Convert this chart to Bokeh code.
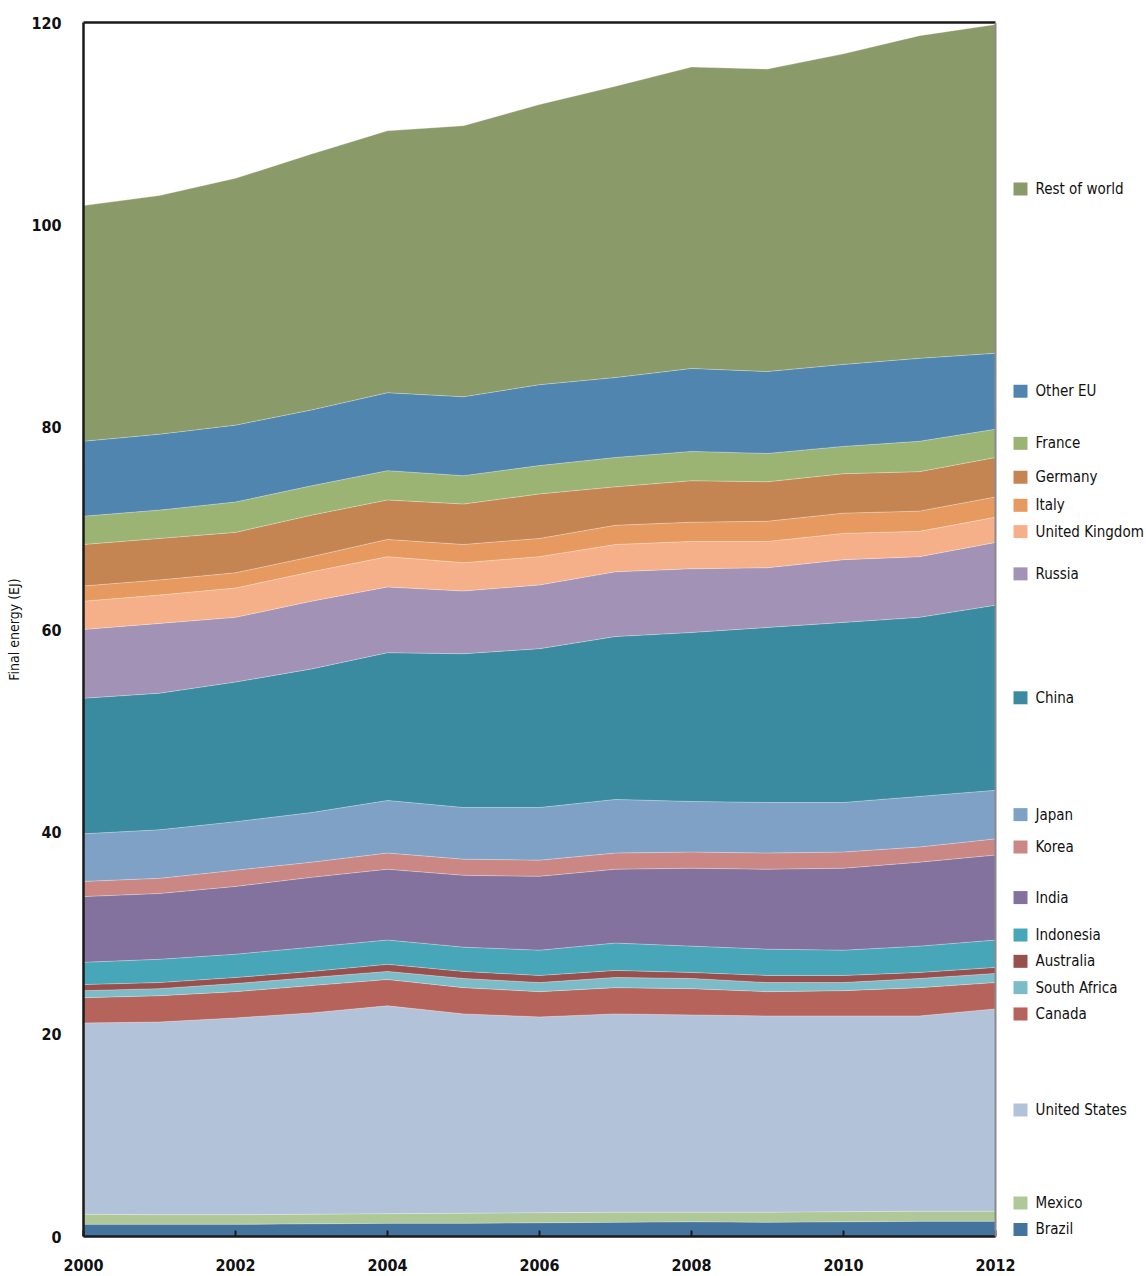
from bokeh.plotting import figure
from bokeh.models import ColumnDataSource, Range1d, LinearAxis, FixedTicker, Span, SingleIntervalTicker
from bokeh.core.properties import value
from bokeh.embed import file_html
from bokeh.resources import INLINE

years = list(range(2000, 2013))

# stacking order, bottom to top
names = ["Brazil", "Mexico", "United States", "Canada", "South Africa", "Australia",
         "Indonesia", "India", "Korea", "Japan", "China", "Russia", "United Kingdom",
         "Italy", "Germany", "France", "Other EU", "Rest of world"]

brazil = [1.2, 1.2, 1.2, 1.25, 1.3, 1.3, 1.35, 1.4, 1.45, 1.4, 1.45, 1.5, 1.5]
mexico = [1.0, 0.95, 0.95, 0.95, 0.95, 1.0, 1.0, 1.0, 0.95, 1.0, 1.0, 1.0, 1.0]
united_states = [18.9, 19.05, 19.45, 19.9, 20.55, 19.7, 19.35, 19.6, 19.5, 19.4, 19.35, 19.3, 20.0]
canada = [2.5, 2.6, 2.6, 2.7, 2.6, 2.6, 2.5, 2.6, 2.6, 2.4, 2.5, 2.8, 2.6]
south_africa = [0.7, 0.7, 0.8, 0.8, 0.8, 0.9, 0.9, 1.0, 1.0, 0.9, 0.8, 0.9, 0.9]
australia = [0.6, 0.6, 0.6, 0.6, 0.7, 0.7, 0.7, 0.7, 0.6, 0.7, 0.7, 0.6, 0.6]
indonesia = [2.2, 2.3, 2.3, 2.4, 2.4, 2.4, 2.5, 2.7, 2.6, 2.6, 2.5, 2.6, 2.7]
india = [6.5, 6.5, 6.7, 6.9, 7.0, 7.1, 7.3, 7.3, 7.7, 7.9, 8.1, 8.3, 8.4]
korea = [1.5, 1.5, 1.6, 1.5, 1.6, 1.6, 1.6, 1.6, 1.6, 1.6, 1.6, 1.5, 1.6]
japan = [4.7, 4.8, 4.8, 4.9, 5.2, 5.1, 5.2, 5.3, 5.0, 5.0, 4.9, 5.0, 4.8]
china = [13.4, 13.5, 13.8, 14.2, 14.6, 15.2, 15.7, 16.1, 16.7, 17.3, 17.8, 17.7, 18.3]
russia = [6.8, 6.9, 6.4, 6.7, 6.5, 6.2, 6.3, 6.4, 6.3, 5.9, 6.2, 6.0, 6.2]
united_kingdom = [2.8, 2.8, 2.9, 2.9, 3.0, 2.8, 2.8, 2.7, 2.7, 2.6, 2.6, 2.5, 2.5]
italy = [1.5, 1.5, 1.5, 1.5, 1.7, 1.8, 1.8, 1.9, 1.9, 2.0, 2.0, 2.0, 2.0]
germany = [4.1, 4.1, 4.0, 4.1, 3.9, 4.0, 4.4, 3.8, 4.1, 3.9, 3.9, 3.9, 3.9]
france = [2.8, 2.8, 3.0, 2.9, 2.9, 2.8, 2.8, 2.9, 2.9, 2.8, 2.7, 3.0, 2.8]
other_eu = [7.4, 7.5, 7.6, 7.5, 7.7, 7.8, 8.0, 7.9, 8.2, 8.1, 8.1, 8.2, 7.5]
rest_of_world = [23.3, 23.6, 24.4, 25.3, 25.9, 26.8, 27.7, 28.8, 29.8, 29.9, 30.7, 31.9, 32.5]

series = [brazil, mexico, united_states, canada, south_africa, australia, indonesia,
          india, korea, japan, china, russia, united_kingdom, italy, germany, france,
          other_eu, rest_of_world]

colors = ["#44739e", "#b0c797", "#b2c2d8", "#b6635c", "#7bbcc8", "#97504d",
          "#47a6b8", "#83719e", "#ca8784", "#7ea1c5", "#3a8aa0", "#a293b6",
          "#f5b08a", "#e69a5f", "#c58552", "#9bb473", "#5085b0", "#8a9a68"]

y_ticks = [0, 20, 40, 60, 80, 100, 120]
x_tick_labels = ["2000", "2002", "2004", "2006", "2008", "2010", "2012"]

FONT = "DejaVu Sans Condensed"

data = {"year": years}
for n, s in zip(names, series):
    data[n] = s
source = ColumnDataSource(data)

# layout
W, H = 1146, 1276
left, top, bottom = 83, 22, 40
px_per_year = 912 / 12.0
x_end = 2000 + (W - left) / px_per_year

p = figure(width=W, height=H, output_backend="svg", toolbar_location=None,
           x_range=Range1d(2000, x_end), y_range=Range1d(0, 120),
           min_border_left=left, min_border_top=top, min_border_bottom=bottom,
           min_border_right=0)
p.outline_line_color = None
p.xgrid.visible = False
p.ygrid.visible = False
p.background_fill_color = "white"

p.varea_stack(stackers=names, x="year", color=colors, source=source)

# thin light separators between bands
cum = [0.0] * len(years)
for n, s in zip(names, series):
    cum = [c + v for c, v in zip(cum, s)]
    p.line(x=years, y=list(cum), line_color="white", line_alpha=0.4, line_width=0.8)

# axes
xa = p.xaxis[0]
xa.bounds = (2000, 2012)
xa.ticker = SingleIntervalTicker(interval=2)
xa.major_label_overrides = {int(t): t for t in x_tick_labels}
xa.axis_line_color = "#1a1a1a"
xa.axis_line_width = 2.5
xa.major_tick_in = 6
xa.major_tick_out = 0
xa.major_tick_line_color = "#1a1a1a"
xa.major_tick_line_width = 2
xa.minor_tick_line_color = None
xa.major_label_text_font = FONT
xa.major_label_text_font_size = "16px"
xa.major_label_text_font_style = "bold"
xa.major_label_text_color = "#111111"
xa.major_label_standoff = 18

ya = p.yaxis[0]
ya.ticker = FixedTicker(ticks=y_ticks)
ya.axis_line_color = "#1a1a1a"
ya.axis_line_width = 2.5
ya.major_tick_in = 0
ya.major_tick_out = 0
ya.minor_tick_line_color = None
ya.major_label_text_font = FONT
ya.major_label_text_font_size = "16px"
ya.major_label_text_font_style = "bold"
ya.major_label_text_color = "#111111"
ya.major_label_standoff = 22
ya.axis_label = "Final energy (EJ)"
ya.axis_label_text_font = FONT
ya.axis_label_text_font_size = "14px"
ya.axis_label_text_font_style = "normal"
ya.axis_label_text_color = "#111111"
ya.axis_label_standoff = 6

top_axis = LinearAxis(bounds=(2000, 2012), ticker=FixedTicker(ticks=[]),
                      major_label_text_font_size="0px", major_label_standoff=0,
                      major_tick_in=0, major_tick_out=0, minor_tick_in=0, minor_tick_out=0,
                      axis_line_color="#1a1a1a", axis_line_width=2.5)
p.add_layout(top_axis, "above")

p.add_layout(Span(location=2012, dimension="height", line_color="#8a8a8a", line_width=2))

# legend: labels placed at band midpoints in the last year, spread apart when crowded
last = len(years) - 1
mids = []
base = 0.0
for s in series:
    mids.append(base + s[last] / 2.0)
    base += s[last]
pos = list(mids)
gap = 2.6
order = sorted(range(len(pos)), key=lambda i: -pos[i])
for _ in range(300):
    moved = False
    for a, b in zip(order[:-1], order[1:]):
        d = pos[a] - pos[b]
        if d < gap - 1e-6:
            sh = (gap - d) / 2.0
            pos[a] += sh
            pos[b] -= sh
            moved = True
    for i in range(len(pos)):
        if pos[i] < 0.7:
            pos[i] = 0.7
    if not moved:
        break

sw_x = 2000 + (1020 - left) / px_per_year
tx_x = 2000 + (1035 - left) / px_per_year
p.rect(x=[sw_x] * len(names), y=pos, width=14, height=13, width_units="screen",
       height_units="screen", fill_color=colors, line_color=None)
p.text(x=[tx_x] * len(names), y=pos, text=names, text_font=value(FONT),
       text_font_size="15px", text_baseline="middle", text_align="left",
       text_color="#111111")

open("out.html", "w").write(file_html(p, INLINE))
